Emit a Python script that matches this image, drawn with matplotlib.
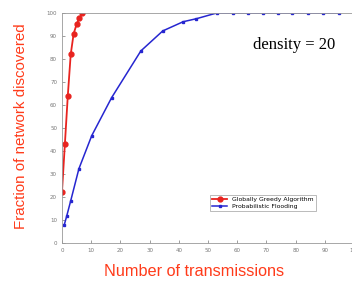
import matplotlib
matplotlib.use("Agg")
import matplotlib.pyplot as plt

# data
greedy_x = [0, 1, 2, 3, 4, 5, 6, 7]
greedy_y = [22, 43, 64, 82, 91, 95, 98, 100]
flood_x = [0.8, 1.6, 3, 5.8, 10.2, 17, 27, 34.5, 41.5, 46, 53, 58.6, 63.7, 68.9, 73.9, 78.9, 84.1, 89.5, 94.9]
flood_y = [8, 11.6, 18.4, 32.3, 46.7, 63.2, 83.5, 92.2, 96.2, 97.5, 100, 100, 100, 100, 100, 100, 100, 100, 100]
ticks = list(range(0, 101, 10))

fig = plt.figure(figsize=(3.52, 2.82), dpi=100)
ax = fig.add_axes([0.176, 0.138, 0.83, 0.816])

ax.plot(greedy_x, greedy_y, color='#e8231f', marker='o', markersize=3.5, linewidth=1.3,
        label='Globally Greedy Algorithm')
ax.plot(flood_x, flood_y, color='#2626d0', marker='s', markersize=2, linewidth=1.1,
        label='Probabilistic Flooding')

ax.set_xlim(0, 100)
ax.set_ylim(0, 100)
ax.set_xticks(ticks)
ax.set_yticks(ticks)
ax.tick_params(labelsize=4, colors='#777777', length=2, width=0.5, direction='in')
for s in ax.spines.values():
    s.set_color('#999999')
    s.set_linewidth(0.6)

ax.text(65.4, 86, 'density = 20', family='Liberation Serif', fontsize=12, va='center')

leg = ax.legend(loc='lower right', bbox_to_anchor=(0.88, 0.126), fontsize=4.4, frameon=True,
                fancybox=False, edgecolor='#888888', handlelength=2.5, borderpad=0.35,
                labelspacing=0.25)
leg.get_frame().set_linewidth(0.5)

fig.text(0.55, 0.039, 'Number of transmissions', family='Liberation Sans', fontsize=11.7,
         color='#ff3b1a', ha='center', va='center')
fig.text(0.06, 0.551, 'Fraction of network discovered', family='Liberation Sans', fontsize=10.9,
         color='#ff3b1a', rotation=90, ha='center', va='center')

fig.savefig('out.png', dpi=100)
